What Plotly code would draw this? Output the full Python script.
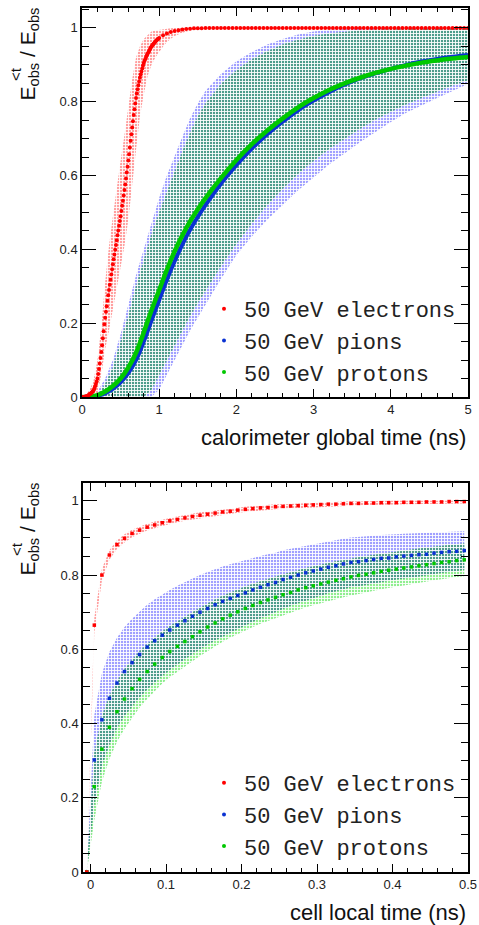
import numpy as np
import plotly.graph_objects as go

W, H = 479, 925


def px(x):
    return x / W


def py(y):
    return 1 - y / H


# ---------------- TOP PANEL: calorimeter global time ----------------
# electrons: 0.01 ns bins up to 1 ns, then every 0.05 ns
e_t_top = np.round(np.concatenate([np.arange(0, 1.0001, 0.01), np.arange(1.05, 5.0001, 0.05)]), 3)
e_top = [
    0, 0, 0, 0.001, 0.001, 0.002, 0.002, 0.003, 0.004, 0.006, 0.008,
    0.009, 0.011, 0.013, 0.015, 0.018, 0.023, 0.029, 0.035, 0.042, 0.050,
    0.062, 0.076, 0.091, 0.106, 0.122, 0.140, 0.159, 0.178, 0.197, 0.215,
    0.231, 0.246, 0.261, 0.276, 0.290, 0.304, 0.318, 0.332, 0.346, 0.360,
    0.373, 0.386, 0.399, 0.412, 0.425, 0.438, 0.451, 0.464, 0.477, 0.490,
    0.504, 0.518, 0.532, 0.546, 0.561, 0.576, 0.592, 0.608, 0.624, 0.641,
    0.658, 0.676, 0.694, 0.712, 0.730, 0.747, 0.764, 0.780, 0.795, 0.810,
    0.822, 0.834, 0.845, 0.855, 0.865, 0.874, 0.882, 0.890, 0.898, 0.905,
    0.911, 0.916, 0.921, 0.926, 0.930, 0.934, 0.938, 0.942, 0.946, 0.950,
    0.953, 0.955, 0.958, 0.960, 0.963, 0.965, 0.967, 0.969, 0.971, 0.973,
    0.980, 0.985, 0.989, 0.992, 0.994, 0.996, 0.997, 0.998, 0.999, 0.999, 0.999,
    1.0, 1.0, 1.0, 1.0, 1.0, 1.0, 1.0, 1.0, 1.0, 1.0,
    1.0, 1.0, 1.0, 1.0, 1.0, 1.0, 1.0, 1.0, 1.0, 1.0,
    1.0, 1.0, 1.0, 1.0, 1.0, 1.0, 1.0, 1.0, 1.0, 1.0,
    1.0, 1.0, 1.0, 1.0, 1.0, 1.0, 1.0, 1.0, 1.0, 1.0,
    1.0, 1.0, 1.0, 1.0, 1.0, 1.0, 1.0, 1.0, 1.0, 1.0,
    1.0, 1.0, 1.0, 1.0, 1.0, 1.0, 1.0, 1.0, 1.0, 1.0,
    1.0, 1.0, 1.0, 1.0, 1.0, 1.0, 1.0, 1.0, 1.0,
]

# electron spread band (top)
eb_t = [0.0, 0.05, 0.10, 0.15, 0.20, 0.25, 0.30, 0.35, 0.40, 0.45, 0.50, 0.55, 0.60, 0.65, 0.70,
        0.75, 0.80, 0.85, 0.90, 0.95, 1.00, 1.05, 1.10, 1.15, 1.20, 1.30, 1.40, 1.50, 1.70, 2.00, 5.00]
eb_lo = [0, 0, 0, 0, 0.01, 0.06, 0.13, 0.18, 0.24, 0.30, 0.35, 0.41, 0.48, 0.58, 0.67,
         0.76, 0.82, 0.87, 0.90, 0.92, 0.935, 0.95, 0.962, 0.971, 0.978, 0.987, 0.993, 0.996, 0.999, 1.0, 1.0]
eb_hi = [0, 0.005, 0.02, 0.045, 0.10, 0.19, 0.31, 0.41, 0.49, 0.57, 0.64, 0.71, 0.79, 0.86, 0.92,
         0.95, 0.97, 0.98, 0.99, 0.993, 0.995, 0.997, 0.998, 0.999, 1.0, 1.0, 1.0, 1.0, 1.0, 1.0, 1.0]

# pions / protons (top)
h_t_top = [0.0, 0.1, 0.2, 0.3, 0.4, 0.5, 0.6, 0.7, 0.8, 0.9, 1.0, 1.1, 1.2, 1.3, 1.4, 1.5, 1.6,
           1.8, 2.0, 2.2, 2.4, 2.6, 2.8, 3.0, 3.2, 3.4, 3.6, 3.8, 4.0, 4.2, 4.4, 4.6, 4.8, 5.0]
pi_top = [0, 0, 0.003, 0.010, 0.022, 0.040, 0.065, 0.100, 0.150, 0.207, 0.263, 0.318, 0.368, 0.413,
          0.453, 0.488, 0.520, 0.578, 0.628, 0.673, 0.712, 0.746, 0.777, 0.803, 0.826, 0.846, 0.863,
          0.877, 0.889, 0.900, 0.909, 0.916, 0.922, 0.927]
p_top = [0, 0, 0.005, 0.015, 0.030, 0.050, 0.080, 0.120, 0.175, 0.235, 0.290, 0.345, 0.395, 0.438,
         0.476, 0.509, 0.539, 0.593, 0.642, 0.685, 0.722, 0.755, 0.785, 0.810, 0.832, 0.850, 0.865,
         0.878, 0.889, 0.898, 0.906, 0.912, 0.917, 0.921]
pi_hi_top = [0, 0, 0.015, 0.05, 0.10, 0.17, 0.25, 0.33, 0.40, 0.47, 0.54, 0.60, 0.655, 0.705, 0.755,
             0.795, 0.83, 0.875, 0.91, 0.935, 0.955, 0.97, 0.982, 0.99, 0.995, 0.998, 1.0, 1.0, 1.0,
             1.0, 1.0, 1.0, 1.0, 1.0]
pi_lo_top = [0, 0, 0, 0, 0, 0, 0, 0, 0, 0, 0.02, 0.06, 0.10, 0.14, 0.18, 0.215, 0.25, 0.32, 0.385,
             0.435, 0.48, 0.52, 0.56, 0.595, 0.63, 0.66, 0.69, 0.718, 0.745, 0.77, 0.79, 0.81, 0.83, 0.848]
p_hi_top = [0, 0, 0.005, 0.035, 0.08, 0.15, 0.22, 0.30, 0.37, 0.44, 0.50, 0.555, 0.615, 0.665, 0.715,
            0.76, 0.795, 0.848, 0.885, 0.915, 0.937, 0.955, 0.968, 0.978, 0.985, 0.99, 0.993, 0.995,
            0.996, 0.997, 0.997, 0.998, 0.998, 0.998]
p_lo_top = [0, 0, 0, 0, 0, 0, 0, 0, 0, 0.02, 0.06, 0.10, 0.14, 0.18, 0.22, 0.255, 0.29, 0.355, 0.415,
            0.47, 0.52, 0.565, 0.605, 0.64, 0.672, 0.70, 0.727, 0.752, 0.773, 0.793, 0.811, 0.828,
            0.844, 0.858]

# ---------------- BOTTOM PANEL: cell local time ----------------
t_bot = [-0.005, 0.005, 0.015, 0.025, 0.035, 0.045, 0.055, 0.065, 0.075, 0.085, 0.095,
         0.105, 0.115, 0.125, 0.135, 0.145, 0.155, 0.165, 0.175, 0.185, 0.195,
         0.205, 0.215, 0.225, 0.235, 0.245, 0.255, 0.265, 0.275, 0.285, 0.295,
         0.305, 0.315, 0.325, 0.335, 0.345, 0.355, 0.365, 0.375, 0.385, 0.395,
         0.405, 0.415, 0.425, 0.435, 0.445, 0.455, 0.465, 0.475, 0.485, 0.495]
e_bot = [0, 0.665, 0.800, 0.854, 0.882, 0.899, 0.912, 0.921, 0.929, 0.935, 0.941,
         0.946, 0.950, 0.954, 0.958, 0.961, 0.964, 0.967, 0.970, 0.972, 0.975,
         0.977, 0.979, 0.981, 0.982, 0.984, 0.985, 0.986, 0.987, 0.988, 0.989,
         0.990, 0.991, 0.991, 0.992, 0.993, 0.993, 0.994, 0.994, 0.995, 0.995,
         0.995, 0.996, 0.996, 0.996, 0.997, 0.997, 0.997, 0.998, 0.998, 0.998]
pi_bot = [0, 0.302, 0.410, 0.468, 0.509, 0.540, 0.564, 0.586, 0.606, 0.623, 0.638,
          0.652, 0.665, 0.677, 0.689, 0.700, 0.710, 0.720, 0.729, 0.737, 0.745,
          0.752, 0.760, 0.767, 0.774, 0.780, 0.788, 0.794, 0.800, 0.806, 0.811,
          0.816, 0.821, 0.825, 0.830, 0.834, 0.836, 0.839, 0.842, 0.845, 0.846,
          0.849, 0.851, 0.853, 0.855, 0.856, 0.859, 0.861, 0.863, 0.864, 0.866]
p_bot = [0, 0.230, 0.331, 0.390, 0.432, 0.466, 0.494, 0.519, 0.540, 0.560, 0.578,
         0.594, 0.608, 0.621, 0.634, 0.647, 0.660, 0.671, 0.682, 0.692, 0.701,
         0.710, 0.718, 0.726, 0.733, 0.740, 0.747, 0.753, 0.760, 0.766, 0.771,
         0.776, 0.781, 0.786, 0.790, 0.795, 0.799, 0.802, 0.806, 0.810, 0.813,
         0.816, 0.819, 0.822, 0.825, 0.828, 0.831, 0.834, 0.836, 0.839, 0.841]
# spreads (half widths of the bands)
e_err_bot = [0, 0.02, 0.016, 0.013, 0.012, 0.011, 0.010, 0.010, 0.009, 0.009, 0.009,
             0.008, 0.008, 0.008, 0.008, 0.008, 0.007, 0.007, 0.007, 0.007, 0.007,
             0.007, 0.007, 0.007, 0.007, 0.007, 0.006, 0.006, 0.006, 0.006, 0.006,
             0.006, 0.006, 0.006, 0.006, 0.006, 0.005, 0.005, 0.005, 0.005, 0.005,
             0.005, 0.005, 0.005, 0.005, 0.005, 0.005, 0.005, 0.005, 0.005, 0.005]
pi_err_bot = [0, 0.120, 0.125, 0.125, 0.122, 0.120, 0.118, 0.116, 0.114, 0.112, 0.110,
              0.108, 0.106, 0.104, 0.102, 0.100, 0.098, 0.096, 0.094, 0.092, 0.090,
              0.088, 0.086, 0.084, 0.082, 0.080, 0.079, 0.077, 0.076, 0.074, 0.073,
              0.072, 0.070, 0.069, 0.068, 0.067, 0.066, 0.065, 0.064, 0.063, 0.062,
              0.061, 0.060, 0.059, 0.058, 0.057, 0.056, 0.055, 0.054, 0.053, 0.052]
p_err_bot = [0, 0.090, 0.088, 0.085, 0.082, 0.080, 0.078, 0.076, 0.074, 0.072, 0.070,
             0.069, 0.068, 0.067, 0.066, 0.065, 0.064, 0.063, 0.062, 0.061, 0.060,
             0.059, 0.058, 0.057, 0.056, 0.055, 0.055, 0.054, 0.054, 0.053, 0.052,
             0.052, 0.051, 0.051, 0.050, 0.050, 0.049, 0.049, 0.048, 0.048, 0.047,
             0.047, 0.047, 0.046, 0.046, 0.046, 0.045, 0.045, 0.045, 0.044, 0.044]

legend_names = ["50 GeV electrons", "50 GeV pions", "50 GeV protons"]
x_titles = ["calorimeter global time (ns)", "cell local time (ns)"]

# ---------------- styling ----------------
C_E, C_PI, C_P = "#ff0000", "#0a32d2", "#00c800"
BAND_E, BAND_PI, BAND_P, BAND_OV = "#ffa0a0", "#a0a0ff", "#90ee90", "#4f9c8c"
FONT = "Liberation Sans"
MONO = "Liberation Mono"

fig = go.Figure()


def band(x, lo, hi, color, xa, ya):
    x = list(x)
    return go.Scatter(
        x=x + x[::-1], y=list(hi) + list(lo)[::-1], mode="lines", fill="toself",
        line=dict(width=0), hoverinfo="skip", showlegend=False, xaxis=xa, yaxis=ya,
        fillpattern=dict(shape="+", size=3, solidity=0.5, fgcolor="white",
                         bgcolor=color, fillmode="replace"),
    )


def overlap(lo1, hi1, lo2, hi2):
    lo = np.maximum(np.array(lo1), np.array(lo2))
    hi = np.minimum(np.array(hi1), np.array(hi2))
    hi = np.maximum(hi, lo)
    return lo, hi


# --- top bands
fig.add_trace(band(h_t_top, pi_lo_top, pi_hi_top, BAND_PI, "x", "y"))
fig.add_trace(band(h_t_top, p_lo_top, p_hi_top, BAND_P, "x", "y"))
olo, ohi = overlap(pi_lo_top, pi_hi_top, p_lo_top, p_hi_top)
fig.add_trace(band(h_t_top, olo, ohi, BAND_OV, "x", "y"))
fig.add_trace(band(eb_t, eb_lo, eb_hi, BAND_E, "x", "y"))

# --- top curves
fig.add_trace(go.Scatter(x=h_t_top, y=pi_top, mode="lines", line=dict(color=C_PI, width=4, shape="spline"),
                         showlegend=False, hoverinfo="skip", xaxis="x", yaxis="y"))
fig.add_trace(go.Scatter(x=h_t_top, y=p_top, mode="lines", line=dict(color=C_P, width=4.5, shape="spline"),
                         showlegend=False, hoverinfo="skip", xaxis="x", yaxis="y"))
fig.add_trace(go.Scatter(x=e_t_top, y=e_top, mode="markers", marker=dict(color=C_E, size=4),
                         showlegend=False, hoverinfo="skip", xaxis="x", yaxis="y"))

# --- bottom bands
tb = np.array(t_bot)
pb, pib, eb = np.array(p_bot), np.array(pi_bot), np.array(e_bot)
pi_lo_b, pi_hi_b = pib - np.array(pi_err_bot), np.minimum(pib + np.array(pi_err_bot), 1.0)
p_lo_b, p_hi_b = pb - np.array(p_err_bot), np.minimum(pb + np.array(p_err_bot), 1.0)
e_lo_b, e_hi_b = eb - np.array(e_err_bot), np.minimum(eb + np.array(e_err_bot), 1.0)
fig.add_trace(band(tb, pi_lo_b, pi_hi_b, BAND_PI, "x2", "y2"))
fig.add_trace(band(tb, p_lo_b, p_hi_b, BAND_P, "x2", "y2"))
olo, ohi = overlap(pi_lo_b, pi_hi_b, p_lo_b, p_hi_b)
fig.add_trace(band(tb, olo, ohi, BAND_OV, "x2", "y2"))
fig.add_trace(band(tb, e_lo_b, e_hi_b, BAND_E, "x2", "y2"))

for vals, col in [(pi_bot, C_PI), (p_bot, C_P), (e_bot, C_E)]:
    fig.add_trace(go.Scatter(x=t_bot, y=vals, mode="markers", marker=dict(color=col, size=3.5, symbol="square"),
                             showlegend=False, hoverinfo="skip", xaxis="x2", yaxis="y2"))

# --- legend entries
for lg in ["legend", "legend2"]:
    for name, col in zip(legend_names, [C_E, C_PI, C_P]):
        fig.add_trace(go.Scatter(x=[None], y=[None], mode="markers", name=name,
                                 marker=dict(color=col, size=4), legend=lg,
                                 xaxis="x" if lg == "legend" else "x2",
                                 yaxis="y" if lg == "legend" else "y2"))

axis_common = dict(
    showline=True, linecolor="black", linewidth=1.5, mirror="ticks", ticks="inside",
    tickcolor="black", tickwidth=1, showgrid=False, zeroline=False,
    tickfont=dict(family=FONT, size=13, color="#222"),
)

leg_common = dict(xanchor="left", yanchor="top", font=dict(family=MONO, size=22, color="#222"),
                  bgcolor="rgba(0,0,0,0)", borderwidth=0, tracegroupgap=0)

fig.update_layout(
    width=W, height=H, margin=dict(l=0, r=0, t=0, b=0, autoexpand=False),
    paper_bgcolor="white", plot_bgcolor="white",
    xaxis=dict(domain=[px(82), px(468)], range=[0, 5], anchor="y", dtick=1, tick0=0, ticklen=8,
               minor=dict(dtick=0.2, ticks="inside", ticklen=4, tickcolor="black"), **axis_common),
    yaxis=dict(domain=[py(397), py(8)], range=[0, 1.054], anchor="x", dtick=0.2, tick0=0, ticklen=14,
               minor=dict(dtick=0.05, ticks="inside", ticklen=7, tickcolor="black"), **axis_common),
    xaxis2=dict(domain=[px(83), px(468)], range=[-0.01, 0.5], anchor="y2", dtick=0.1, tick0=0, ticklen=8,
                minor=dict(dtick=0.02, ticks="inside", ticklen=4, tickcolor="black"), **axis_common),
    yaxis2=dict(domain=[py(872), py(483)], range=[0, 1.048], anchor="x2", dtick=0.2, tick0=0, ticklen=14,
                minor=dict(dtick=0.05, ticks="inside", ticklen=7, tickcolor="black"), **axis_common),
    legend=dict(x=px(204), y=py(288), **leg_common),
    legend2=dict(x=px(204), y=py(762), **leg_common),
    showlegend=True,
)

annotations = []
for i, (top, xt_y) in enumerate([(8, 437), (483, 912)]):
    annotations.append(dict(text=x_titles[i], xref="paper", yref="paper", x=px(468), y=py(xt_y),
                            xanchor="right", yanchor="middle", showarrow=False,
                            font=dict(family=FONT, size=22, color="#111")))
    annotations.append(dict(text="E<sub>obs</sub> / E<sub>obs</sub>", xref="paper", yref="paper",
                            x=px(28), y=py(top - 2), xanchor="center", yanchor="top", textangle=-90,
                            showarrow=False, font=dict(family=FONT, size=21, color="#111")))
    annotations.append(dict(text="&lt;t", xref="paper", yref="paper",
                            x=px(16), y=py(top + 66), xanchor="center", yanchor="middle", textangle=-90,
                            showarrow=False, font=dict(family=FONT, size=15, color="#111")))
fig.update_layout(annotations=annotations)

fig.write_html("out.html",
               post_script="document.body.style.margin='0';document.body.style.overflow='hidden';")
